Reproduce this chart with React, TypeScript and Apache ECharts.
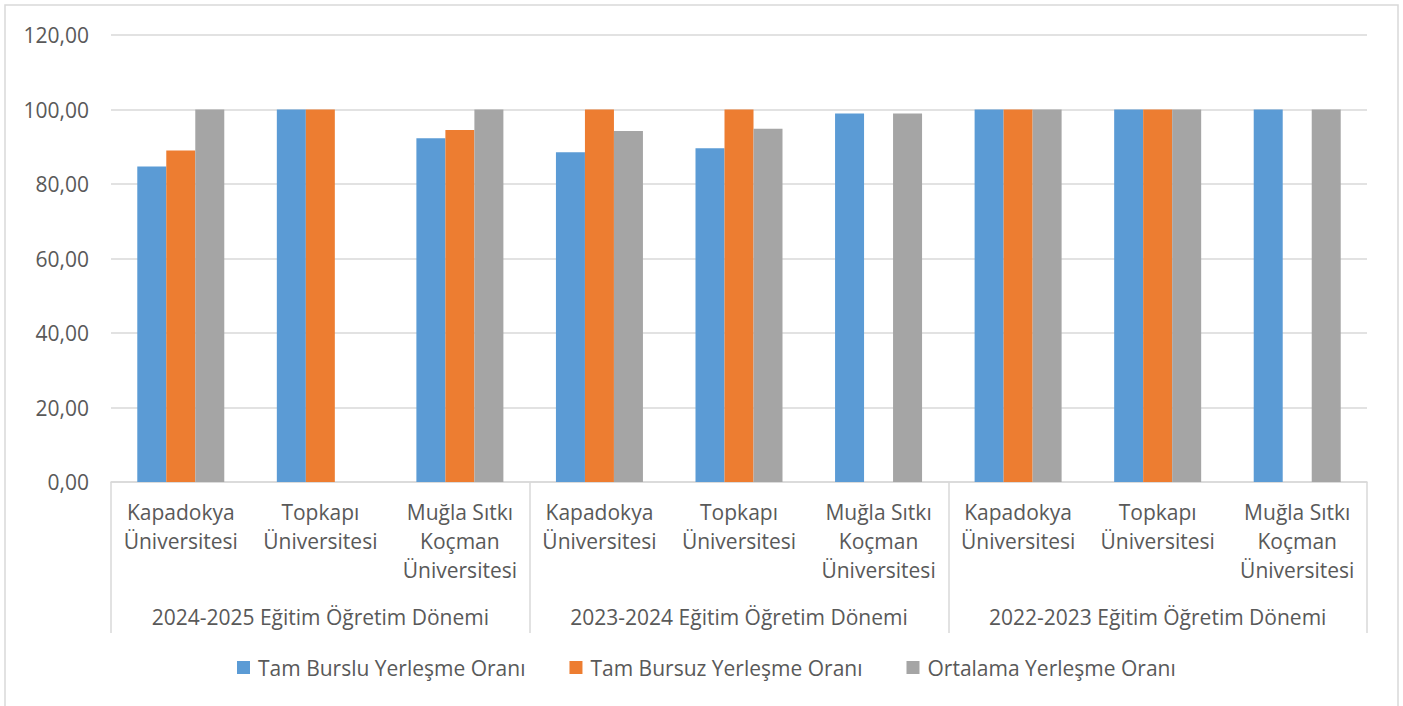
import React, { useEffect, useRef } from "react";
import * as echarts from "echarts";

const universities = [
  "Kapadokya\nÜniversitesi",
  "Topkapı\nÜniversitesi",
  "Muğla Sıtkı\nKoçman\nÜniversitesi",
  "Kapadokya\nÜniversitesi",
  "Topkapı\nÜniversitesi",
  "Muğla Sıtkı\nKoçman\nÜniversitesi",
  "Kapadokya\nÜniversitesi",
  "Topkapı\nÜniversitesi",
  "Muğla Sıtkı\nKoçman\nÜniversitesi",
];
const periods = [
  "2024-2025 Eğitim Öğretim Dönemi",
  "2023-2024 Eğitim Öğretim Dönemi",
  "2022-2023 Eğitim Öğretim Dönemi",
];
const seriesNames = [
  "Tam Burslu Yerleşme Oranı",
  "Tam Bursuz Yerleşme Oranı",
  "Ortalama Yerleşme Oranı",
];
const tamBurslu = [84.7, 100, 92.3, 88.5, 89.6, 98.9, 100, 100, 100];
const tamBursuz = [89.0, 100, 94.5, 100, 100, null, 100, 100, null];
const ortalama = [100, null, 100, 94.2, 94.8, 98.9, 100, 100, 100];
const colors = ["#5B9BD5", "#ED7D31", "#A5A5A5"];

const FONT = "Open Sans";
const FS = 21;

export default function App() {
  const ref = useRef<HTMLDivElement>(null);
  useEffect(() => {
    if (!ref.current) return;
    const chart = echarts.init(ref.current, null, { renderer: "svg" });
    const values = [tamBurslu, tamBursuz, ortalama];
    chart.setOption({
      animation: false,
      textStyle: { fontFamily: FONT },
      color: colors,
      graphic: [
        {
          type: "rect",
          shape: { x: 5, y: 5, width: 1393, height: 720 },
          style: { fill: "none", stroke: "#D9D9D9", lineWidth: 1.5 },
          silent: true,
        },
      ],
      grid: { left: 111, right: 36, top: 35, bottom: 224, containLabel: false },
      legend: {
        bottom: 23,
        left: 232,
        icon: "rect",
        itemWidth: 13,
        itemHeight: 13,
        itemGap: 44,
        textStyle: { color: "#595959", fontSize: FS, fontFamily: FONT, padding: [0, 0, 0, 3] },
        data: seriesNames,
      },
      xAxis: [
        {
          type: "category",
          data: universities,
          axisLine: { show: true, lineStyle: { color: "#D9D9D9", width: 1.5 } },
          axisTick: { show: false },
          axisLabel: {
            interval: 0,
            color: "#595959",
            fontSize: FS,
            lineHeight: 29,
            margin: 15,
            fontFamily: FONT,
          },
        },
        {
          type: "category",
          data: periods,
          position: "bottom",
          axisLine: { show: false },
          axisTick: {
            show: true,
            length: 151,
            lineStyle: { color: "#D9D9D9", width: 1.5 },
          },
          axisLabel: {
            interval: 0,
            color: "#595959",
            fontSize: FS,
            margin: 124,
            fontFamily: FONT,
          },
        },
      ],
      yAxis: {
        type: "value",
        min: 0,
        max: 120,
        interval: 20,
        axisLine: { show: false },
        axisTick: { show: false },
        splitLine: { lineStyle: { color: "#D9D9D9", width: 1.5 } },
        axisLabel: {
          color: "#595959",
          fontSize: FS,
          margin: 22,
          fontFamily: FONT,
          formatter: (v: number) => v.toFixed(2).replace(".", ","),
        },
      },
      series: seriesNames.map((name, i) => ({
        name,
        type: "bar",
        xAxisIndex: 0,
        data: values[i],
        barWidth: 29,
        barGap: "0%",
        itemStyle: { color: colors[i] },
      })),
    });
    return () => chart.dispose();
  }, []);
  return (
    <div
      ref={ref}
      style={{ position: "absolute", left: 0, top: 0, width: 1403, height: 706 }}
    />
  );
}
